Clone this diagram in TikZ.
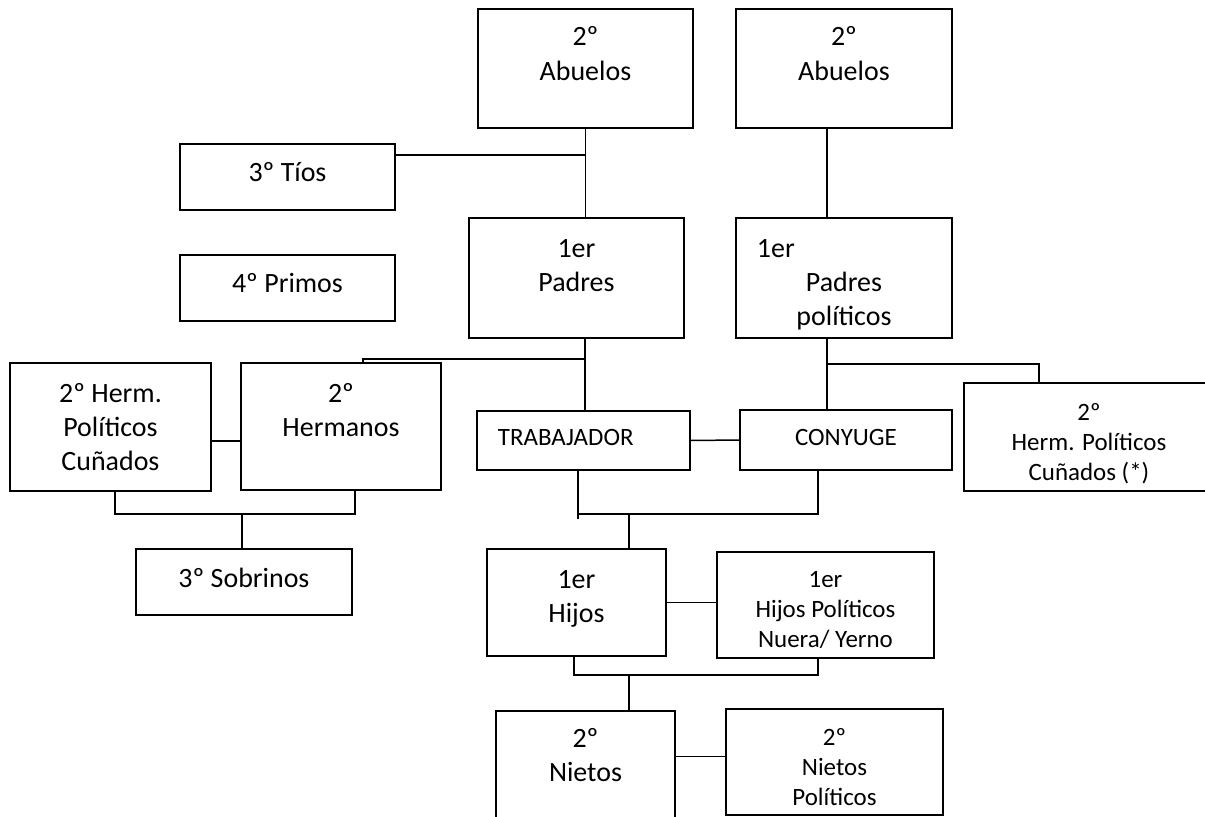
\documentclass[tikz,border=0pt]{standalone}
\usepackage{fontspec}
\setmainfont{Carlito}

\begin{document}
\begin{tikzpicture}[x=0.02cm, y=-0.02cm,
  kbox/.style n args={3}{draw, line width=1.1pt, inner sep=0pt, outer sep=0pt,
    anchor=north west, align=flush center, text width=#1cm, text height=#2cm, text depth=#3cm},
  big/.style={font=\fontsize{15.9}{19.6}\selectfont},
  small/.style={font=\fontsize{14.2}{17.2}\selectfont},
  link/.style={line width=0.85pt}]
  \useasboundingbox (0,0) rectangle (1205,816);
  \fill[white] (0,0) rectangle (1205,816);

  % abuelos, tios, primos, padres
  \node[kbox={4.30}{.74}{1.64}, big] (abA) at (478,9) {2º\\Abuelos};
  \node[kbox={4.32}{.74}{1.64}, big] (abB) at (736,9) {2º\\Abuelos};
  \node[kbox={4.30}{.76}{.56}, big] (tios) at (180,144) {3º Tíos};
  \node[kbox={4.30}{.74}{.58}, big] (primos) at (180,255) {4º Primos};
  \node[kbox={4.30}{.78}{1.62}, big] (padres) at (469,218) {1er\\Padres};
  \node[kbox={4.32}{.78}{1.62}, big] (padpol) at (736,218)
    {\makebox[\linewidth][l]{\hspace{.42cm}1er}\\Padres\\políticos};

  % hermanos, trabajador, conyuge
  \node[kbox={4.02}{.78}{1.78}, big] (hpc) at (10,363) {2º Herm.\\Políticos\\Cuñados};
  \node[kbox={4.00}{.78}{1.76}, big] (herm) at (241,363) {2º\\Hermanos};
  \node[kbox={4.32}{.76}{.56}, big] (sobr) at (136,549) {3º Sobrinos};
  \node[kbox={4.26}{.68}{.50}, small, align=flush left] (trab) at (477,411) {\hspace*{.42cm}TRABAJADOR};
  \node[kbox={4.24}{.70}{.50}, small] (cony) at (740,410) {CONYUGE};
  \node[kbox={5.00}{.74}{1.42}, small] (hpc2) at (964,383) {2º\\Herm. Políticos\\Cuñados (*)};

  % hijos, nietos
  \node[kbox={3.58}{.78}{1.36}, big] (hijos) at (487,549) {1er\\Hijos};
  \node[kbox={4.34}{.70}{1.42}, small] (hijpol) at (717,552) {1er\\Hijos Políticos\\Nuera/ Yerno};
  \node[kbox={3.58}{.72}{1.66}, big] (nietos) at (496,711) {2º\\Nietos};
  \node[kbox={4.34}{.72}{1.40}, small] (nietpol) at (726,709) {2º\\Nietos\\Políticos};

  % lineas
  \coordinate (tjoin) at (585,155);
  \draw[link] (abA.south) -- (abA.south |- padres.north);
  \draw[link] (tios.east |- tjoin) -- (tjoin);

  \coordinate (pjoin) at (585,359);
  \coordinate (hknee) at (363,359);
  \draw[link] (padres.south -| pjoin) -- (trab.north -| pjoin);
  \draw[link] (pjoin) -- (hknee) -- (hknee |- herm.north);

  \coordinate (ppjoin) at (827,364);
  \coordinate (cknee) at (1039,364);
  \draw[link] (abB.south -| ppjoin) -- (padpol.north -| ppjoin);
  \draw[link] (padpol.south -| ppjoin) -- (cony.north -| ppjoin);
  \draw[link] (ppjoin) -- (cknee) -- (cknee |- hpc2.north);

  \draw[link] (hpc.-8) -- (hpc.-8 -| herm.west);
  \coordinate (hl) at (115,514);
  \coordinate (hr) at (355,514);
  \coordinate (sjoin) at (242,514);
  \draw[link] (hpc.south -| hl) -- (hl) -- (hr) -- (herm.south -| hr);
  \draw[link] (sjoin) -- (sobr.north -| sjoin);

  \draw[link] (trab.east) -- (cony.west);
  \coordinate (tl) at (578,514);
  \coordinate (tr) at (818,514);
  \coordinate (hjoin) at (629,514);
  \draw[link] (trab.south -| tl) -- (tl) -- (tr) -- (cony.south -| tr);
  \draw[link] (tl) -- ++(0,5);
  \draw[link] (hjoin) -- (hijos.north -| hjoin);

  \draw[link] (hijos.east) -- (hijos.east -| hijpol.west);
  \coordinate (il) at (574,675);
  \coordinate (ir) at (818,675);
  \coordinate (njoin) at (629,675);
  \draw[link] (hijos.south -| il) -- (il) -- (ir) -- (hijpol.south -| ir);
  \draw[link] (njoin) -- (nietos.north -| njoin);
  \draw[link] (nietpol.177) -- (nietpol.177 -| nietos.east);
\end{tikzpicture}
\end{document}
